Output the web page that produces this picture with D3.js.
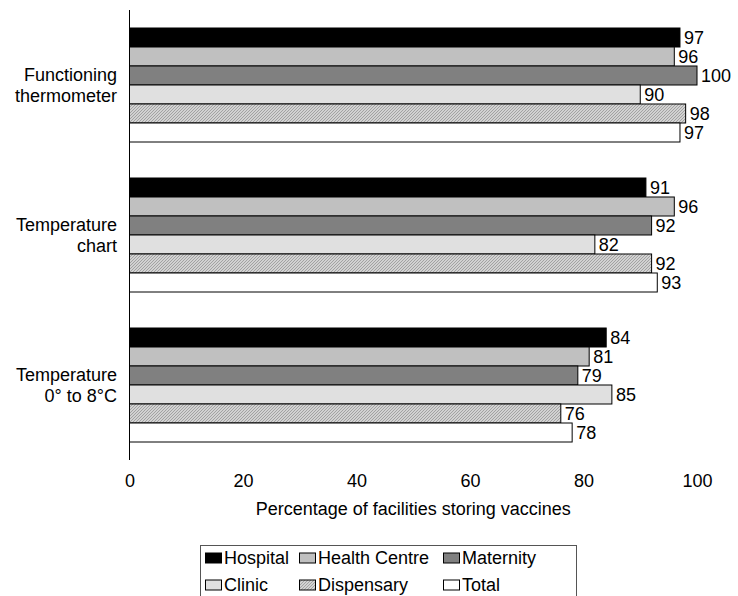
<!DOCTYPE html>
<html><head><meta charset="utf-8">
<script src="https://cdn.jsdelivr.net/npm/d3@7"></script>
<style>body{margin:0;background:#fff}svg{display:block;font-family:"Liberation Sans",Arial,sans-serif}</style>
</head><body>
<svg id="c" width="738" height="596"></svg>
<script>
const categories = [["Functioning","thermometer"],["Temperature","chart"],["Temperature","0° to 8°C"]];
const seriesNames = ["Hospital","Health Centre","Maternity","Clinic","Dispensary","Total"];
const hospital = [97,91,84];
const healthCentre = [96,96,81];
const maternity = [100,92,79];
const clinic = [90,82,85];
const dispensary = [98,92,76];
const total = [97,93,78];
const xTicks = [0,20,40,60,80,100];
const axisTitle = "Percentage of facilities storing vaccines";

const seriesValues = [hospital,healthCentre,maternity,clinic,dispensary,total];
const fills = ["#000000","#c0c0c0","#808080","#e0e0e0","url(#hatch)","#ffffff"];
const FS = 18;

const svg = d3.select("#c");
const defs = svg.append("defs");
const pat = defs.append("pattern").attr("id","hatch").attr("patternUnits","userSpaceOnUse")
  .attr("width",3).attr("height",3);
pat.append("rect").attr("width",3).attr("height",3).attr("fill","#d2d2d2");
[[0,2],[1,1],[2,0]].forEach(([px,py])=>{
  pat.append("rect").attr("x",px).attr("y",py).attr("width",1).attr("height",1).attr("fill","#a2a2a2");
});

const mLeft = 129.5, mRight = 697, mTop = 10, mBottom = 460;
const x = d3.scaleLinear().domain([0,100]).range([mLeft,mRight]);
const y0 = d3.scaleBand().domain(d3.range(categories.length)).range([mTop,mBottom]).paddingInner(0.24).paddingOuter(0.12);
const y1 = d3.scaleBand().domain(d3.range(seriesNames.length)).range([0,y0.bandwidth()]);

const g = svg.append("g");
categories.forEach((cat,ci)=>{
  seriesValues.forEach((vals,si)=>{
    const v = vals[ci];
    const yy = y0(ci)+y1(si);
    g.append("rect").attr("x",x(0)).attr("y",yy).attr("width",x(v)-x(0)).attr("height",y1.bandwidth())
      .attr("fill",fills[si]).attr("stroke","#000").attr("stroke-width",1);
    g.append("text").attr("x",x(v)+4).attr("y",yy+y1.bandwidth()/2).attr("dy","0.36em")
      .attr("font-size",FS).attr("fill","#000").text(v);
  });
  const cy = y0(ci)+y0.bandwidth()/2;
  const t = g.append("text").attr("text-anchor","end").attr("font-size",FS).attr("fill","#000");
  cat.forEach((line,li)=>{
    t.append("tspan").attr("x",117).attr("y",cy + (li-(cat.length-1)/2)*21).attr("dy","0.36em").text(line);
  });
});

// vertical axis line
svg.append("line").attr("x1",mLeft).attr("x2",mLeft).attr("y1",mTop).attr("y2",mBottom).attr("stroke","#000").attr("stroke-width",1);

// x tick labels
const xa = svg.append("g").attr("transform",`translate(0,${mBottom})`)
  .call(d3.axisBottom(x).tickValues(xTicks).tickSize(0).tickPadding(14));
xa.select(".domain").remove();
xa.selectAll("text").attr("font-size",FS).attr("font-family","Liberation Sans, Arial, sans-serif").attr("fill","#000");

svg.append("text").attr("x",(mLeft+mRight)/2).attr("y",515).attr("text-anchor","middle")
  .attr("font-size",FS).text(axisTitle);

// legend
const lg = svg.append("g");
lg.append("rect").attr("x",200.5).attr("y",545.5).attr("width",376).attr("height",60).attr("fill","#fff").attr("stroke","#555");
const colX = [205,299,443];
const rowY = [558,585];
seriesNames.forEach((n,i)=>{
  const cx = colX[i%3], cy = rowY[Math.floor(i/3)];
  lg.append("rect").attr("x",cx+0.5).attr("y",cy-5).attr("width",16).attr("height",10).attr("fill",fills[i]).attr("stroke","#000");
  lg.append("text").attr("x",cx+19).attr("y",cy).attr("dy","0.36em").attr("font-size",FS).text(n);
});
</script>
</body></html>
